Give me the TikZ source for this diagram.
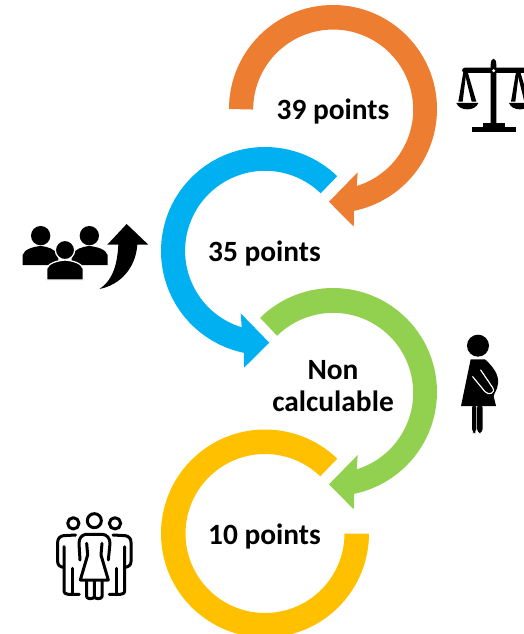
\documentclass[tikz,border=0pt]{standalone}
\usepackage{fontspec}
\setmainfont{Carlito}
\definecolor{cOrange}{HTML}{ED7D31}
\definecolor{cBlue}{HTML}{00B0F0}
\definecolor{cGreen}{HTML}{92D050}
\definecolor{cYellow}{HTML}{FFC000}
\tikzset{
  lbl/.style={anchor=base,font=\fontsize{29.4}{32}\bfseries\selectfont,inner sep=0pt,text=black},
  zoomed/.style={shift={#1},scale=1/3},
  iconline/.style={draw=black,line width=3pt,line cap=round,line join=round,fill=none}
}
\begin{document}
\begin{tikzpicture}[x=1pt,y=1pt,yscale=-1]
\useasboundingbox (0,0) rectangle (524,634);
\clip (0,0) rectangle (524,634);
% orange ring
\fill[cOrange] (333,109) ++(180:104) arc (180:438.4:104) -- (354,212) -- (353.7,226.7) -- (329,201.7) -- (357.7,172.3) -- (356.7,186)
  arc (432.9:180:80) -- cycle;
% blue ring
\fill[cBlue] (265,251) ++(-46:104) arc (-46:-258.3:104) -- (244,367.7) -- (269.3,342.7) -- (240.7,313.3) -- (241.7,327.3)
  arc (-253:-46:80) -- cycle;
% green ring
\fill[cGreen] (333,392) ++(225.5:104) arc (225.5:438.3:104) -- (353.7,509.3) -- (329,484.3) -- (357.7,455) -- (356.7,469.3)
  arc (432.9:225.5:80) -- cycle;
% yellow ring
\fill[cYellow] (265,533.5) ++(-46:104) arc (-46:-360:104) -- ++(-24.5,0) arc (-360:-46:79.5) -- cycle;
% labels
\node[lbl] (t1) at (333,119) {39 points};
\node[lbl] (t2) at (264.5,261) {35 points};
\node[lbl] (t3a) at (333,379) {Non};
\node[lbl] (t3b) at (333,411) {calculable};
\node[lbl] (t4) at (264.5,544) {10 points};
% scales icon
\begin{scope}[zoomed={(440,50)}]
  \fill (152,220) -- (152,45) .. controls (152,20) and (169,20) .. (169,45) -- (169,220) -- cycle;
  \fill[rounded corners=3pt] (66,53) rectangle (262,69);
  \fill[white] (161,62) circle (5);
  \fill (128,220) rectangle (195,233);
  \fill (95,232) rectangle (228,247);
  \foreach \c in {82,240} {
    \fill (\c-12,66) -- (\c-3,66) -- (\c-14,155) -- (\c-27,155) -- cycle;
    \fill (\c-9,66) -- (\c+1,66) -- (\c+27,155) -- (\c+13,155) -- cycle;
    \fill (\c-33,159) -- (\c+33,159) .. controls (\c+28,172) and (\c+15,178) .. (\c,178) .. controls (\c-15,178) and (\c-28,172) .. (\c-33,159) -- cycle;
  }
\end{scope}
% group with arrow icon
\begin{scope}[zoomed={(10,210)}]
  \fill (92,77) circle (29);
  \fill (238,77) circle (29);
  \fill (38,165) -- (38,135) .. controls (42,118) and (70,110) .. (92,108) .. controls (115,110) and (135,118) .. (145,135) -- (145,165) -- cycle;
  \fill (185,165) -- (185,135) .. controls (195,118) and (215,110) .. (238,108) .. controls (260,110) and (288,118) .. (293,135) -- (293,165) -- cycle;
  \fill[draw=white,line width=1.3pt] (165,120) circle (29);
  \fill[draw=white,line width=1.3pt] (110,210) -- (110,176) .. controls (115,160) and (140,152) .. (165,150) .. controls (190,152) and (215,160) .. (220,176) -- (220,210) -- cycle;
  \fill (350,42) -- (415,104) -- (382,104) .. controls (377,175) and (330,225) .. (268,237) .. controls (310,210) and (322,160) .. (325,104) -- (292,104) -- cycle;
\end{scope}
% pregnant woman icon
\begin{scope}[zoomed={(450,325)}]
  \fill (84,62) circle (33);
  \fill (62,103) -- (105,103) .. controls (130,125) and (147,150) .. (144,175) .. controls (143,195) and (131,205) .. (131,215) -- (138,243) -- (33,243) -- cycle;
  \fill[rounded corners=4pt] (66,236) rectangle (79,324);
  \fill[rounded corners=4pt] (81,236) rectangle (98,324);
  \draw[white,line width=1.2pt,line cap=round] (68,155) -- (105,200) .. controls (115,212) and (138,205) .. (128,188) -- (92,135);
\end{scope}
% family icon
\begin{scope}[zoomed={(45,505)}]
  \draw[iconline] (148,47) circle (21);
  \draw[iconline] (85,55) circle (17);
  \draw[iconline] (210,55) circle (17);
  % woman
  \draw[iconline] (105,165) -- (102,115) .. controls (102,100) and (110,90) .. (122,88) -- (174,88) .. controls (186,90) and (195,100) .. (195,115) -- (190,165);
  \draw[iconline] (125,115) -- (128,150) -- (106,225) -- (190,225) -- (168,150) -- (171,115);
  \draw[iconline] (125,228) -- (125,275) .. controls (125,283) and (147,283) .. (148,275) -- (148,228);
  \draw[iconline] (148,275) .. controls (149,283) and (170,283) .. (171,275) -- (171,228);
  % left man
  \draw[iconline] (92,90) -- (55,92) .. controls (45,94) and (38,100) .. (38,112) -- (38,170) .. controls (38,180) and (45,185) .. (55,187);
  \draw[iconline] (57,125) -- (57,255) .. controls (57,265) and (62,268) .. (70,268) -- (103,268);
  \draw[iconline] (82,190) -- (82,268);
  % right man
  \draw[iconline] (204,90) -- (241,92) .. controls (251,94) and (258,100) .. (258,112) -- (258,170) .. controls (258,180) and (251,185) .. (241,187);
  \draw[iconline] (239,125) -- (239,255) .. controls (239,265) and (234,268) .. (226,268) -- (193,268);
  \draw[iconline] (214,190) -- (214,268);
\end{scope}
\end{tikzpicture}
\end{document}
